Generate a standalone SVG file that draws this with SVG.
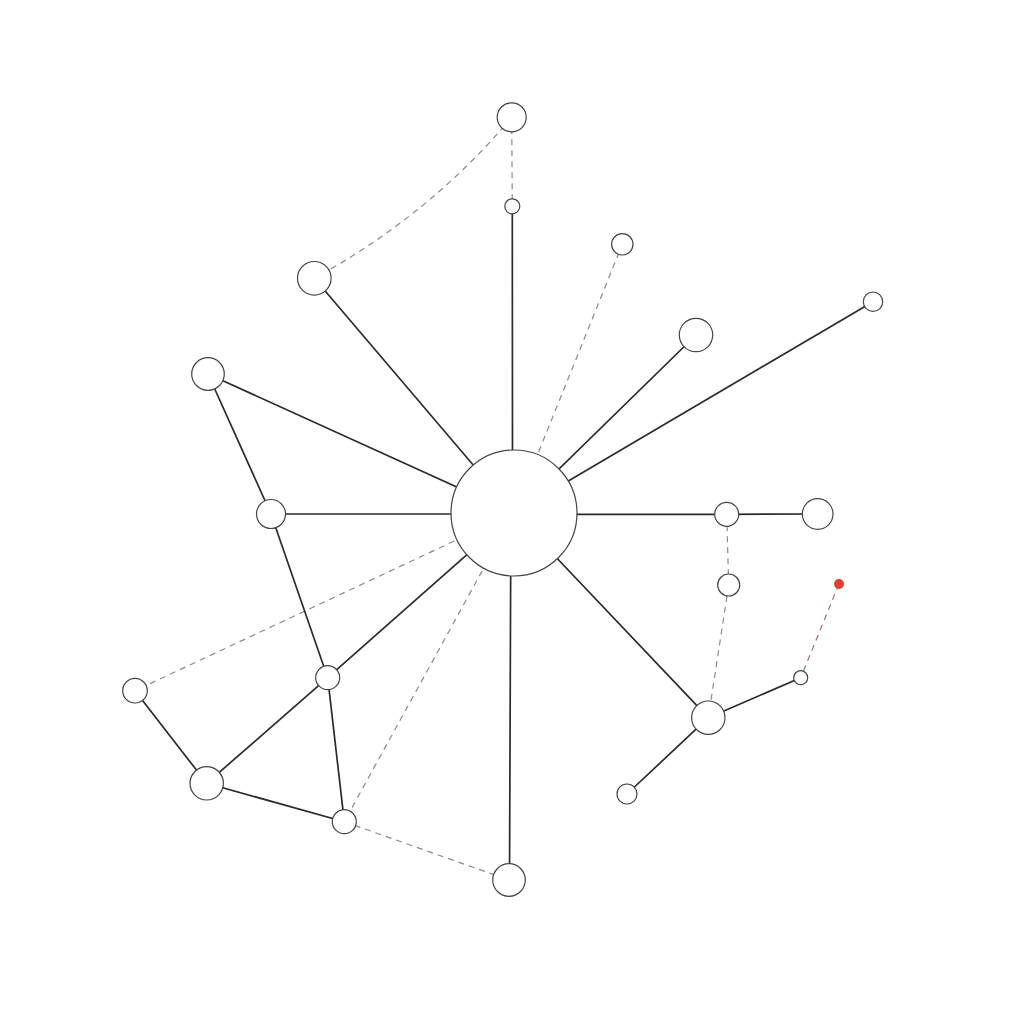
<svg xmlns="http://www.w3.org/2000/svg" width="1024" height="1024" viewBox="0 0 1024 1024">
<style>
.s{stroke:#2b2b2b;stroke-width:1.7;fill:none;stroke-linecap:round}
.d{stroke:#8a8a8a;stroke-width:1.2;fill:none;stroke-dasharray:6 5}
.dr{stroke:#a07070;stroke-width:1.2;fill:none;stroke-dasharray:6 5}
.n{fill:#fff;stroke:#444;stroke-width:1.2}
</style>
<rect width="1024" height="1024" fill="#fff"/>
<g id="connectors">
<path class="d" d="M511.7 117.3 Q430 215 314.3 278.3"/>
<line class="d" x1="511.7" y1="117.3" x2="512.3" y2="206.3"/>
<line class="d" x1="514" y1="513" x2="622.3" y2="244.3"/>
<line class="d" x1="514" y1="513" x2="135" y2="690.7"/>
<line class="d" x1="514" y1="513" x2="344.3" y2="821.7"/>
<line class="d" x1="344.3" y1="821.7" x2="509" y2="880"/>
<line class="d" x1="726.7" y1="514.3" x2="728.7" y2="585"/>
<line class="d" x1="728.7" y1="585" x2="708.3" y2="717.7"/>
<line class="dr" x1="839" y1="584" x2="800.7" y2="677.7"/>
<line class="s" x1="512.5" y1="480" x2="512.3" y2="206.3"/>
<line class="s" x1="514" y1="513" x2="314.3" y2="278.3"/>
<line class="s" x1="514" y1="513" x2="208" y2="374"/>
<line class="s" x1="514" y1="514" x2="271" y2="514"/>
<line class="s" x1="514" y1="513" x2="696" y2="335"/>
<line class="s" x1="514" y1="513" x2="873" y2="301.7"/>
<line class="s" x1="514" y1="514.3" x2="726.7" y2="514.3"/>
<line class="s" x1="726.7" y1="514.3" x2="817.7" y2="514"/>
<line class="s" x1="514" y1="513" x2="708.3" y2="717.7"/>
<line class="s" x1="510.8" y1="540" x2="509.5" y2="880"/>
<line class="s" x1="514" y1="513" x2="327.7" y2="677.7"/>
<line class="s" x1="327.7" y1="677.7" x2="206.7" y2="783.3"/>
<line class="s" x1="208" y1="374" x2="271" y2="514"/>
<line class="s" x1="271" y1="514" x2="327.7" y2="677.7"/>
<line class="s" x1="327.7" y1="677.7" x2="344.3" y2="821.7"/>
<line class="s" x1="206.7" y1="783.3" x2="344.3" y2="821.7"/>
<line class="s" x1="135" y1="690.7" x2="206.7" y2="783.3"/>
<line class="s" x1="708.3" y1="717.7" x2="800.7" y2="677.7"/>
<line class="s" x1="708.3" y1="717.7" x2="627" y2="794"/>
</g>
<g id="hub"><circle class="n" cx="514" cy="513" r="63"/></g>
<g id="n1"><circle class="n" cx="511.7" cy="117.3" r="14.5"/></g>
<g id="n2"><circle class="n" cx="512.3" cy="206.3" r="7.5"/></g>
<g id="n3"><circle class="n" cx="622.3" cy="244.3" r="10.7"/></g>
<g id="n4"><circle class="n" cx="314.3" cy="278.3" r="16.8"/></g>
<g id="n5"><circle class="n" cx="696" cy="335" r="16.7"/></g>
<g id="n6"><circle class="n" cx="873" cy="301.7" r="9.7"/></g>
<g id="n7"><circle class="n" cx="208" cy="374" r="16.3"/></g>
<g id="n8"><circle class="n" cx="271" cy="514" r="14.5"/></g>
<g id="n9"><circle class="n" cx="726.7" cy="514.3" r="12"/></g>
<g id="n10"><circle class="n" cx="817.7" cy="514" r="15.3"/></g>
<g id="n11"><circle class="n" cx="728.7" cy="585" r="11"/></g>
<g id="n12"><circle cx="839" cy="584" r="5" fill="#e0412f"/></g>
<g id="n13"><circle class="n" cx="327.7" cy="677.7" r="12"/></g>
<g id="n14"><circle class="n" cx="135" cy="690.7" r="12.3"/></g>
<g id="n15"><circle class="n" cx="800.7" cy="677.7" r="7"/></g>
<g id="n16"><circle class="n" cx="708.3" cy="717.7" r="16.7"/></g>
<g id="n17"><circle class="n" cx="206.7" cy="783.3" r="16.7"/></g>
<g id="n18"><circle class="n" cx="627" cy="794" r="10"/></g>
<g id="n19"><circle class="n" cx="344.3" cy="821.7" r="12"/></g>
<g id="n20"><circle class="n" cx="509" cy="880" r="16.3"/></g>
</svg>
